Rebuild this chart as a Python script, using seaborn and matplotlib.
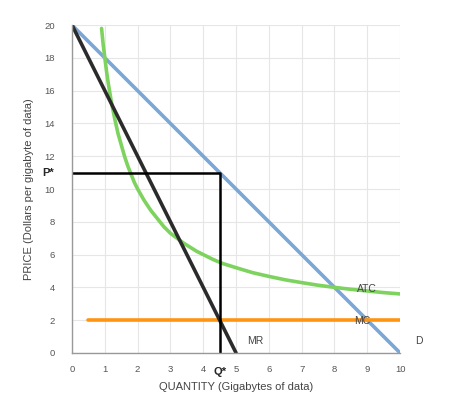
import matplotlib.pyplot as plt
import pandas as pd
import seaborn as sns

# Curves
demand_q = [0, 10]
demand_p = [20, 0]

mr_q = [0, 5]
mr_p = [20, 0]

mc_q = [0.5, 10]
mc_p = [2, 2]

atc_q = [0.9, 0.95, 1.0, 1.05, 1.1, 1.2, 1.3, 1.4, 1.5, 1.6, 1.7, 1.8, 1.9, 2.0,
         2.2, 2.4, 2.6, 2.8, 3.0, 3.2, 3.4, 3.6, 3.8, 4.0, 4.3, 4.6, 5.0, 5.5,
         6.0, 6.5, 7.0, 7.5, 8.0, 8.5, 9.0, 9.5, 10.0]
atc_p = [19.8, 18.8, 18.0, 17.2, 16.5, 15.3, 14.3, 13.4, 12.7, 12.0, 11.4, 10.9,
         10.4, 10.0, 9.3, 8.7, 8.2, 7.7, 7.3, 7.0, 6.7, 6.45, 6.2, 6.0, 5.7, 5.45,
         5.2, 4.9, 4.67, 4.46, 4.29, 4.13, 4.0, 3.88, 3.78, 3.68, 3.6]

q_star = 4.5
p_star = 11

x_ticks = list(range(0, 11))
y_ticks = list(range(0, 21, 2))

sns.set_theme(style="white")
plt.rcParams["font.family"] = ["Liberation Sans", "DejaVu Sans"]

fig = plt.figure(figsize=(4.74, 3.93), dpi=100)
ax = fig.add_axes([0.152, 0.102, 0.692, 0.834])

grid_col = "#e6e6e6"
for x in x_ticks:
    ax.axvline(x, color=grid_col, lw=0.8, zorder=0)
for y in y_ticks:
    ax.axhline(y, color=grid_col, lw=0.8, zorder=0)

sns.lineplot(x=demand_q, y=demand_p, ax=ax, color="#7ba7d6", lw=2.6)
sns.lineplot(x=atc_q, y=atc_p, ax=ax, color="#7dd35e", lw=2.6, sort=False,
             estimator=None)
sns.lineplot(x=mc_q, y=mc_p, ax=ax, color="#ff9411", lw=2.6)
sns.lineplot(x=mr_q, y=mr_p, ax=ax, color="#2b2b2b", lw=2.6)

# P* / Q* guide lines
guide = pd.DataFrame({"q": [0, q_star, q_star], "p": [p_star, p_star, 0]})
sns.lineplot(data=guide, x="q", y="p", ax=ax, color="black", lw=1.8, sort=False,
             estimator=None)

ax.set_xlim(0, 10)
ax.set_ylim(0, 20)
ax.set_xticks(x_ticks)
ax.set_yticks(y_ticks)
ax.tick_params(axis="both", direction="inout", length=7, width=0.8, color="#999999",
               labelsize=6.8, labelcolor="#555555", pad=5)
ax.tick_params(axis="y", pad=9)
for s in ["top", "right"]:
    ax.spines[s].set_visible(False)
for s in ["left", "bottom"]:
    ax.spines[s].set_color("#999999")
    ax.spines[s].set_linewidth(1.0)

ax.set_xlabel("QUANTITY (Gigabytes of data)", fontsize=8, color="#444444", labelpad=6)
ax.set_ylabel("PRICE (Dollars per gigabyte of data)", fontsize=8, color="#444444",
              labelpad=7)

ax.text(-0.55, p_star, "P*", fontsize=8, fontweight="bold", ha="right", va="center")
ax.text(q_star, -1.15, "Q*", fontsize=8, fontweight="bold", ha="center", va="center")
ax.text(8.7, 3.9, "ATC", fontsize=7.5, color="#444444", va="center")
ax.text(8.6, 1.95, "MC", fontsize=7.5, color="#444444", va="center")
ax.text(5.35, 0.7, "MR", fontsize=7.5, color="#444444", va="center")
ax.text(10.45, 0.7, "D", fontsize=7.5, color="#444444", va="center")

fig.savefig("out.png", dpi=100)
